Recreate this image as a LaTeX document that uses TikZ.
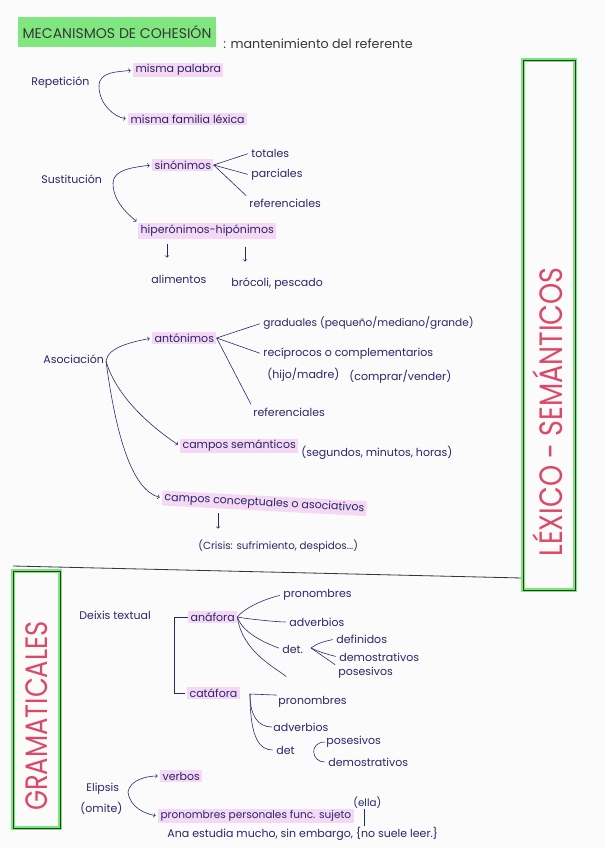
\documentclass[tikz,border=0pt]{standalone}
\usepackage{fontspec}
\setmainfont{Poppins}
\usepackage{tikz}
\usetikzlibrary{arrows,positioning,calc}

\definecolor{ink}{RGB}{42,38,105}
\definecolor{hlpink}{RGB}{244,216,244}
\definecolor{hlgreen}{RGB}{128,230,128}
\definecolor{boxgreen}{RGB}{120,232,120}
\definecolor{capred}{RGB}{222,72,104}
\definecolor{paper}{RGB}{251,251,251}
\definecolor{pencil}{RGB}{55,55,55}

\tikzset{
    txt/.style={anchor=west, inner sep=1pt, text=ink, font=\fontsize{9.4}{10}\selectfont},
    hl/.style={txt, fill=hlpink, inner xsep=2pt, inner ysep=1.5pt},
    smalltxt/.style={txt, font=\fontsize{8.8}{9}\selectfont},
    branch/.style={draw=ink, line width=0.5pt, shorten >=2pt},
    arr/.style={branch, ->, >=to},
    titlebox/.style={fill=hlgreen, text=pencil, inner xsep=4pt, minimum height=26pt, font=\fontsize{12}{13}\selectfont},
    boxglow/.style={draw=boxgreen, line width=3pt},
    boxedge/.style={draw=black!80, line width=0.6pt},
    sidelabel/.style={rotate=90, text=capred, inner sep=0pt, font=\fontsize{23}{23}\selectfont}
}

\begin{document}
\begin{tikzpicture}[x=0.03cm, y=-0.03cm]
    \useasboundingbox (0,0) rectangle (605,848);
    \fill[paper] (0,0) rectangle (605,848);

    % Title
    \node[titlebox] (title) at (117,32) {MECANISMOS DE COHESIÓN};
    \node[txt, text=pencil, font=\fontsize{10.8}{11}\selectfont] (defin) at (222,44) {: mantenimiento del referente};

    % Repeticion
    \node[txt] (rep) at (30,83) {Repetición};
    \node[hl] (palabra) at (133,70) {misma palabra};
    \node[hl] (familia) at (128,119) {misma familia léxica};
    \coordinate (repfork) at (99,86);
    \draw[arr] (repfork) .. controls +(0,-15) and +(-14,2) .. (palabra.west);
    \draw[arr] (repfork) .. controls +(0,18) and +(-14,-2) .. (familia.west);

    % Sustitucion
    \node[txt] (sust) at (40,179) {Sustitución};
    \node[hl] (sinon) at (152,165) {sinónimos};
    \node[hl] (hiper) at (138,231) {hiperónimos-hipónimos};
    \coordinate (sustfork) at (113,183);
    \draw[arr] (sustfork) .. controls +(0,-14) and +(-16,2) .. (sinon.west);
    \draw[arr] (sustfork) .. controls +(0,20) and +(-8,-8) .. (hiper.north west);
    \node[txt] (tot) at (250,153) {totales};
    \node[txt] (parc) at (250,175) {parciales};
    \node[txt] (ref1) at (248,203) {referenciales};
    \draw[branch] (sinon.east) -- (tot.west);
    \draw[branch] (sinon.east) -- (parc.west);
    \draw[branch] (sinon.east) -- (ref1.north west);
    \node[txt] (alim) at (150,279) {alimentos};
    \node[txt] (broc) at (230,284) {brócoli, pescado};
    \coordinate (hipA) at (167,244);
    \coordinate (alimtop) at (167,260);
    \coordinate (hipB) at (245,247);
    \coordinate (broctop) at (245,264);
    \draw[arr] (hipA) -- (alimtop);
    \draw[arr] (hipB) -- (broctop);

    % Asociacion
    \node[txt] (asoc) at (42,359) {Asociación};
    \node[hl] (anton) at (152,338) {antónimos};
    \node[hl] (csem) at (180,446) {campos semánticos};
    \node[txt] (csemej) at (300,453) {(segundos, minutos, horas)};
    \node[hl, rotate=-3] (ccon) at (162,498) {campos conceptuales o asociativos};
    \node[smalltxt] (crisis) at (197,546) {(Crisis: sufrimiento, despidos...)};
    \coordinate (asocfork) at (106,361);
    \draw[arr] (asocfork) .. controls +(2,-14) and +(-20,4) .. (anton.west);
    \draw[arr] (asocfork) .. controls +(10,35) and +(-30,-20) .. (csem.west);
    \draw[arr] (asocfork) .. controls +(10,75) and +(-30,-8) .. (ccon.west);
    \coordinate (cconA) at (218,513);
    \coordinate (crisistop) at (218,531);
    \draw[arr] (cconA) -- (crisistop);
    \node[txt, font=\fontsize{9}{10}\selectfont] (grad) at (262,323) {graduales (pequeño/mediano/grande)};
    \node[txt] (recip) at (262,354) {recíprocos o complementarios};
    \node[txt] (recipA) at (266,375) {(hijo/madre)};
    \node[txt] (recipB) at (348,377) {(comprar/vender)};
    \node[txt] (ref2) at (252,412) {referenciales};
    \draw[branch] (anton.east) -- (grad.west);
    \draw[branch] (anton.east) -- (recip.west);
    \draw[branch] (anton.east) -- (ref2.north west);

    % Division
    \draw[pencil, line width=0.7pt] (13,566) -- (522,578);
    \draw[boxglow] (523,60) rectangle (575,590);
    \draw[boxedge] (523,60) rectangle (575,590);
    \node[sidelabel] (lexlab) at (548,412) {\scalebox{1}[1.2]{LÉXICO - SEMÁNTICOS}};
    \draw[boxglow] (13,571) rectangle (60,828);
    \draw[boxedge] (13,571) rectangle (60,828);
    \node[sidelabel, font=\fontsize{22}{22}\selectfont] (gramlab) at (37,716) {\scalebox{1}[1.2]{GRAMATICALES}};

    % Deixis textual
    \node[txt] (deix) at (78,615) {Deixis textual};
    \node[hl] (anaf) at (188,617) {anáfora};
    \node[hl] (cata) at (187,693) {catáfora};
    \draw[branch, line width=0.7pt] (anaf.west) -- ++(-14,0) |- (cata.west);
    \node[txt] (pron1) at (282,595) {pronombres};
    \node[txt] (adv1) at (288,622) {adverbios};
    \node[txt] (det1) at (281,649) {det.};
    \coordinate (anafend) at (288,678);
    \draw[branch] (anaf.east) .. controls +(10,-12) and +(-10,2) .. (pron1.west);
    \draw[branch] (anaf.east) .. controls +(10,2) and +(-10,0) .. (adv1.west);
    \draw[branch] (anaf.east) .. controls +(6,18) and +(-10,-4) .. (det1.west);
    \draw[branch] (anaf.east) .. controls +(5,35) and +(-12,-10) .. (anafend);
    \node[txt] (defi) at (335,639) {definidos};
    \node[txt] (demo1) at (338,657) {demostrativos};
    \node[txt] (pose1) at (337,673) {posesivos};
    \coordinate (detfork) at (311,648);
    \draw[branch] (detfork) .. controls +(8,-6) and +(-8,2) .. (defi.west);
    \draw[branch] (detfork) .. controls +(8,4) and +(-8,-2) .. (demo1.west);
    \draw[branch] (detfork) -- (pose1.north west);
    \node[txt] (pron2) at (277,702) {pronombres};
    \node[txt] (adv2) at (272,727) {adverbios};
    \node[txt] (det2) at (275,750) {det};
    \node[txt] (pose2) at (325,742) {posesivos};
    \node[txt] (demo2) at (327,762) {demostrativos};
    \coordinate (catfork) at (250,694);
    \draw[branch, shorten >=0pt] (pron2.north west) -- (catfork) .. controls +(0,22) and +(-14,0) .. (adv2.west);
    \draw[branch] (catfork) .. controls +(0,45) and +(-15,0) .. (det2.west);
    \draw[branch] (pose2.west) .. controls +(-16,0) and +(-16,0) .. (demo2.west);

    % Elipsis
    \node[txt] (elip) at (85,789) {Elipsis};
    \node[txt] (omite) at (79,808) {(omite)};
    \node[hl] (verb) at (160,776) {verbos};
    \node[hl, font=\fontsize{9}{10}\selectfont] (ppers) at (158,816) {pronombres personales func. sujeto};
    \node[smalltxt] (ella) at (352,803) {(ella)};
    \node[txt] (ejem) at (166,834) {Ana estudia mucho, sin embargo, \{no suele leer.\}};
    \coordinate (elifork) at (128,792);
    \draw[arr] (elifork) .. controls +(2,-12) and +(-14,0) .. (verb.west);
    \draw[arr] (elifork) .. controls +(2,16) and +(-12,-2) .. (ppers.west);
    \coordinate (insA) at (364,809);
    \coordinate (insB) at (364,826);
    \draw[branch, shorten >=0pt] (insA) -- (insB);
\end{tikzpicture}
\end{document}
